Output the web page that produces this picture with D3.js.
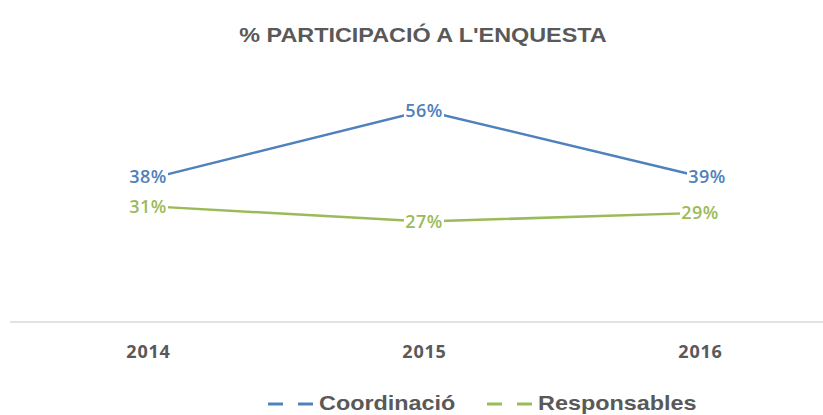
<!doctype html>
<html lang="ca">
<head>
<meta charset="UTF-8">
<title>% Participació a l'enquesta</title>
<style>
    body { margin: 0; background: #fff; }
    svg { display: block; }
</style>
</head>
<body>
<div class="chart"></div>
<script src="https://d3js.org/d3.v7.min.js"></script>
<script>
    // data
    const years = ['2014', '2015', '2016']
    const coordinacio = [38.1, 56.4, 38.8]
    const responsables = [30.9, 26.8, 29.1]
    const seriesNames = ['Coordinació', 'Responsables']

    const width = 823, height = 415
    const colors = { 'Coordinació': '#4f81bd', 'Responsables': '#9bbb59' }
    const stretch = 1.2   // the original text is a bit wide

    const svg = d3.select('.chart').append('svg')
        .attr('width', width)
        .attr('height', height)

    // title
    svg.append('text')
        .attr('transform', 'translate(423,42) scale(' + stretch + ',1)')
        .attr('text-anchor', 'middle')
        .style('font', 'bold 19.5px "Liberation Sans", Arial, sans-serif')
        .style('fill', '#595959')
        .text("% PARTICIPACIÓ A L'ENQUESTA")

    // scales
    const x = d3.scalePoint()
        .domain(years)
        .range([10, 838])
        .padding(0.5)
    const y = d3.scaleLinear()
        .domain([0, 60])
        .range([322, 97])

    // category axis
    const xAxis = svg.append('g')
        .attr('transform', 'translate(0,322)')
        .call(d3.axisBottom(x).tickSize(0).tickPadding(23))
    xAxis.select('.domain')
        .attr('d', 'M10,0H' + width)
        .attr('stroke', '#d9d9d9')
        .attr('stroke-width', 1.5)
    xAxis.selectAll('text')
        .style('font', 'bold 18px "Open Sans", "Noto Sans", sans-serif')
        .style('letter-spacing', '0.8px')
        .style('fill', '#595959')

    const series = [
        { name: seriesNames[0], values: coordinacio },
        { name: seriesNames[1], values: responsables }
    ]

    const line = d3.line()
        .x((d, i) => x(years[i]))
        .y(d => y(d))

    series.forEach(function(s) {
        svg.append('path')
            .datum(s.values)
            .attr('d', line)
            .attr('fill', 'none')
            .attr('stroke', colors[s.name])
            .attr('stroke-width', 2.5)
    })

    // data labels (white box over the line, like the original)
    const fmt = d3.format('.0f')
    series.forEach(function(s) {
        const g = svg.append('g')
        s.values.forEach(function(v, i) {
            let dx = 0, dy = 0
            if (s.name === 'Coordinació' && i === 2) dx = 7
            if (s.name === 'Coordinació' && i === 0) dy = -3
            const cx = x(years[i]) + dx
            const cy = y(v) + dy
            g.append('rect')
                .attr('x', cx - 20)
                .attr('y', cy - 10)
                .attr('width', 40)
                .attr('height', 20)
                .attr('fill', '#fff')
            g.append('text')
                .attr('x', cx)
                .attr('y', cy + 6.5)
                .attr('text-anchor', 'middle')
                .style('font', '600 18px "Open Sans", "Noto Sans", sans-serif')
                .style('letter-spacing', '0.5px')
                .style('fill', colors[s.name])
                .text(fmt(v) + '%')
        })
    })

    // legend
    const legend = svg.append('g')
    const legendPos = [268, 487]
    series.forEach(function(s, i) {
        const lx = legendPos[i]
        legend.append('line')
            .attr('x1', lx)
            .attr('x2', lx + 49)
            .attr('y1', 404)
            .attr('y2', 404)
            .attr('stroke', colors[s.name])
            .attr('stroke-width', 3)
            .attr('stroke-dasharray', '15,15')
        legend.append('text')
            .attr('transform', 'translate(' + (lx + 51) + ',410) scale(' + stretch + ',1)')
            .style('font', 'bold 19.5px "Liberation Sans", Arial, sans-serif')
            .style('fill', '#595959')
            .text(s.name)
    })
</script>
</body>
</html>
